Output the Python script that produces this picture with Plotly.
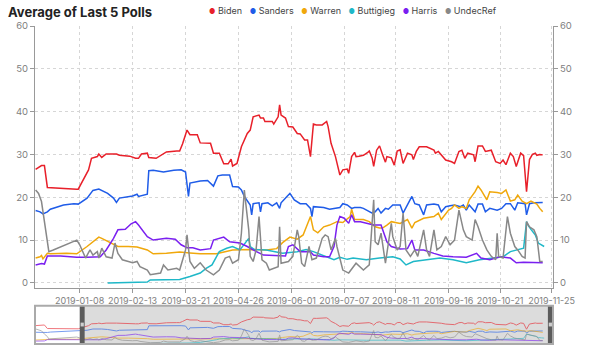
import pandas as pd
import plotly.graph_objects as go

START = pd.Timestamp("2018-12-09")

names = ["Biden", "Sanders", "Warren", "Buttigieg", "Harris", "UndecRef"]
colors = ["#e8202a", "#1f5ce8", "#f0a80c", "#1fb8c8", "#7a1ff0", "#888888"]

biden_days = [0,4,6,8,28,29,36,38,42,43,45,48,55,57,64,68,70,72,76,77,82,85,89,96,98,100,103,105,110,112,119,121,125,128,131,133,134,137,140,144,146,148,152,153,155,156,161,162,165,166,167,170,172,175,178,180,183,185,187,189,191,195,198,199,201,204,206,207,209,212,213,215,217,218,220,223,226,227,229,230,232,234,236,238,239,242,244,246,248,250,253,256,257,259,261,266,271,272,274,276,279,283,285,288,290,292,294,298,299,301,304,306,310,313,316,318,320,323,325,327,330,332,333,334,336,338,340,341,343,345]
biden_vals = [26.5,27.4,27.4,22.3,21.9,21.9,26.4,29.1,29.5,30.1,29.3,30.1,30.1,29.8,29.6,29.1,29.1,30.1,30.3,29.3,29.1,29.8,30.6,30.8,30.8,32.5,35.7,34.6,34.6,32.7,32.6,30.3,30.3,27.8,27.8,28.9,27.3,27.9,31.8,34.9,35.7,38.8,39.2,38.5,38.5,37.7,37.7,37.1,38.8,41.6,39.2,38.5,36.5,36.4,34.9,34.8,33.4,33.4,29.5,37.1,36.9,36.9,37.7,36.5,32.6,29.5,26.8,25.2,26.4,26.6,25.6,29.5,30.5,29.5,29.6,29.8,30.5,30.8,29.1,27.2,31.0,32.0,30.0,28.2,29.5,29.2,27.5,30.8,31.1,27.9,30.3,29.9,28.8,30.7,31.8,31.8,31.0,30.3,30.7,29.9,28.7,28.3,27.9,30.7,31.0,29.1,30.3,29.9,28.3,32.0,32.0,30.7,31.0,28.3,27.9,28.7,27.6,30.3,29.5,27.2,30.3,29.7,25.6,21.3,28.8,30.0,30.3,29.8,30.0,29.9]

sanders_days = [0,3,5,8,10,19,26,29,35,39,43,45,49,53,55,57,66,69,70,76,77,80,87,94,99,102,104,105,110,112,117,121,124,127,132,134,138,140,142,146,147,148,152,153,154,158,161,164,166,167,171,173,176,180,184,187,188,189,196,200,203,207,209,212,215,217,221,223,229,231,233,235,238,240,243,248,250,253,256,258,261,264,266,271,274,276,279,282,285,289,291,293,295,299,301,304,306,309,314,317,320,323,326,328,333,334,336,339,345]
sanders_vals = [16.9,16.6,16.1,16.6,17.2,18.2,18.5,18.4,19.8,21.6,21.9,21.6,20.9,19.8,18.8,19.8,20.3,20.7,20.2,20.7,26.2,26.3,25.9,26.3,26.4,25.9,20.2,23.3,23.6,23.8,23.9,22.6,25.0,25.2,25.2,22.5,22.4,21.7,20.2,18.2,15.9,18.5,18.7,16.6,18.5,18.7,18.0,18.7,17.4,18.7,20.2,20.9,19.4,18.5,18.5,17.4,15.5,17.8,17.6,17.2,17.4,17.6,18.5,18.2,17.4,17.6,17.6,17.4,16.3,16.6,17.4,16.3,17.4,17.2,18.2,18.2,16.3,18.2,20.2,18.5,18.2,15.9,18.2,18.4,18.2,16.6,17.8,18.0,18.2,17.8,18.2,17.0,18.2,16.6,18.4,18.4,16.6,17.4,17.0,17.4,18.5,18.5,17.0,18.7,18.5,15.9,18.5,18.7,18.8]

warren_days = [0,3,4,5,8,10,21,28,35,39,43,45,51,54,56,63,69,76,80,89,98,105,112,123,134,146,157,164,168,173,178,182,184,187,189,192,196,200,205,209,214,215,217,223,227,231,234,236,239,242,248,253,256,258,264,271,274,276,281,283,285,288,290,293,295,299,301,303,307,309,314,317,320,323,326,328,331,334,337,341,343,345]
warren_vals = [5.8,6.1,6.4,5.6,6.9,6.8,6.9,6.8,8.5,9.6,10.7,10.4,9.4,8.9,8.5,8.5,8.4,7.7,6.8,6.9,7.2,7.0,6.8,6.8,7.7,7.8,7.7,8.0,9.4,10.7,10.2,11.2,13.1,15.5,12.4,11.7,13.1,13.5,14.3,14.1,15.5,17.2,14.8,14.8,14.3,13.1,12.8,12.8,13.5,14.3,13.9,14.8,12.8,14.1,15.1,15.5,16.3,14.8,17.0,17.4,18.2,17.4,17.8,17.4,19.4,21.3,22.6,21.7,19.4,21.3,21.1,20.9,21.7,19.1,19.4,20.5,19.1,18.5,19.1,18.4,17.4,16.6]

buttigieg_days = [49,76,78,98,105,112,116,120,123,125,130,134,139,145,146,149,157,168,178,184,189,198,203,207,212,216,225,234,243,248,252,257,266,275,284,293,302,311,318,323,327,332,334,335,337,340,342,344,346]
buttigieg_vals = [0.0,0.2,0.7,0.8,1.5,2.3,3.4,4.2,6.1,7.3,8.1,8.5,7.7,10.4,8.5,7.8,7.7,6.9,7.3,7.8,7.3,6.1,5.4,6.0,5.5,5.8,5.4,5.8,6.1,5.6,4.2,5.0,5.4,5.8,5.4,4.7,5.4,5.8,6.1,7.3,7.7,8.1,14.3,13.5,12.5,11.2,9.3,8.9,8.5]

harris_days = [0,4,6,8,17,28,35,44,48,53,56,61,65,68,70,76,80,89,95,99,103,107,112,119,121,128,132,139,144,148,155,164,170,172,175,180,187,189,196,200,203,205,207,210,213,215,217,221,225,230,235,239,242,248,253,256,258,264,271,277,284,293,300,303,309,316,323,327,332,339,345]
harris_vals = [4.2,4.5,4.4,6.3,6.3,6.0,6.0,6.1,7.7,10.4,12.4,12.5,13.8,14.3,13.5,10.8,10.0,10.4,10.2,8.9,8.2,8.2,7.7,8.0,10.0,10.7,9.6,9.3,8.5,7.7,6.5,6.3,6.3,8.5,8.9,7.3,7.3,6.5,6.1,6.1,8.5,13.5,15.5,15.1,13.9,15.9,14.3,14.3,13.9,13.5,13.5,9.6,8.5,7.9,8.0,10.0,7.7,7.7,6.9,6.3,6.1,6.0,6.9,5.8,5.4,6.1,5.8,4.7,4.8,4.8,4.7]

undec_days = [0,2,4,6,8,9,12,21,28,30,34,37,39,42,43,45,48,52,54,56,59,66,69,71,76,78,85,87,90,96,98,102,103,105,108,112,116,121,125,129,132,134,138,140,142,143,145,146,148,150,152,154,157,159,165,166,167,172,175,178,179,181,183,186,188,191,195,197,199,201,204,205,207,209,213,218,223,227,230,231,233,235,238,240,242,243,246,248,250,252,255,258,260,264,266,268,271,273,276,279,282,285,288,291,293,297,299,301,304,307,310,313,314,315,318,321,323,326,328,331,333,334,336,339,341,343,345]
undec_vals = [21.7,20.9,19.0,14.3,10.8,7.3,7.7,8.9,10.0,8.9,5.8,7.7,6.5,7.3,5.8,8.1,6.1,5.8,9.3,6.9,5.4,4.7,5.0,3.8,3.0,1.9,2.3,4.2,3.0,3.4,3.0,7.7,11.2,5.0,3.4,4.7,3.0,1.9,3.0,5.8,6.2,4.6,5.4,11.6,21.7,18.5,12.4,6.2,5.0,7.7,15.5,5.4,4.6,3.0,3.8,13.1,4.6,5.0,6.2,12.4,10.8,4.6,3.8,8.5,5.4,5.8,10.4,11.2,10.8,7.7,10.4,8.5,5.4,3.0,2.3,4.6,3.0,4.2,19.4,9.6,8.9,11.6,4.6,8.9,13.9,10.8,7.7,8.5,16.3,7.7,6.2,7.7,6.2,12.4,7.7,6.2,12.4,7.7,8.5,10.8,8.9,10.0,17.0,12.4,10.8,10.0,14.8,13.1,10.0,7.7,6.2,5.4,11.6,6.2,5.8,15.5,11.6,8.5,7.7,6.2,5.8,14.3,13.1,12.4,10.8,5.0,5.0]

series_days = [biden_days, sanders_days, warren_days, buttigieg_days, harris_days, undec_days]
series_vals = [biden_vals, sanders_vals, warren_vals, buttigieg_vals, harris_vals, undec_vals]

tick_dates = ["2019-01-08", "2019-02-13", "2019-03-21", "2019-04-26", "2019-06-01",
              "2019-07-07", "2019-08-11", "2019-09-16", "2019-10-21", "2019-11-25"]
y_ticks = [0, 10, 20, 30, 40, 50, 60]

title_text = "Average of Last 5 Polls"


def to_dates(days):
    return START + pd.to_timedelta(days, unit="D")


x_lo = START - pd.Timedelta(hours=10)
x_hi = pd.Timestamp("2019-11-26")

fig = go.Figure()

# main chart lines
for name, col, d, v in zip(names, colors, series_days, series_vals):
    fig.add_trace(go.Scatter(x=to_dates(d), y=v, mode="lines", name=name,
                             line=dict(color=col, width=1.5), showlegend=False,
                             xaxis="x", yaxis="y"))
# right axis (mirror)
fig.add_trace(go.Scatter(x=[None], y=[None], xaxis="x", yaxis="y2", showlegend=False))

# brush/overview lines
for name, col, d, v in zip(names, colors, series_days, series_vals):
    fig.add_trace(go.Scatter(x=to_dates(d), y=v, mode="lines", name=name,
                             line=dict(color=col, width=1), opacity=0.6,
                             showlegend=False, xaxis="x2", yaxis="y3", hoverinfo="skip"))

grid = dict(showgrid=True, gridcolor="#d6d6d6", griddash="3px,3px", gridwidth=1)
axfont = dict(family="Inter, sans-serif", size=9, color="#808080")

fig.update_layout(
    width=600, height=351,
    margin=dict(l=35, r=47, t=26, b=7, pad=0),
    paper_bgcolor="white", plot_bgcolor="white",
    font=dict(family="Inter, sans-serif"),
    title=dict(text=title_text, x=8 / 600, xanchor="left", xref="container",
               y=1 - 12 / 351, yanchor="middle", yref="container",
               font=dict(family="Inter, sans-serif", size=13, color="#222", weight=700)),
    xaxis=dict(domain=[0, 1], anchor="y", range=[x_lo, x_hi], type="date",
               tickvals=tick_dates, ticktext=tick_dates, tickangle=0,
               showline=True, linecolor="#999", linewidth=1,
               ticks="outside", ticklen=4, tickcolor="#999",
               tickfont=axfont, zeroline=False, **grid),
    yaxis=dict(domain=[0.176, 1], anchor="x", range=[-1.2, 60], tickvals=y_ticks,
               showline=True, linecolor="#999", linewidth=1,
               ticks="outside", ticklen=4, tickcolor="#999",
               tickfont=dict(axfont, size=9.5), zeroline=False, **grid),
    yaxis2=dict(overlaying="y", side="right", anchor="x", range=[-1.2, 60], tickvals=y_ticks,
                showline=True, linecolor="#999", linewidth=1,
                ticks="outside", ticklen=4, tickcolor="#999",
                tickfont=dict(axfont, size=9.5), showgrid=False, zeroline=False),
    xaxis2=dict(domain=[0, 1], anchor="y3", range=[x_lo, x_hi], type="date", visible=False),
    yaxis3=dict(domain=[0, 0.12], anchor="x2", range=[0, 55], visible=False),
    showlegend=False,
)

# brush decoration (selection area and handles)
sel_lo = START + pd.Timedelta(days=30)
sel_hi = START + pd.Timedelta(days=348.5)
h_w = pd.Timedelta(days=3.4)
fig.add_shape(type="rect", xref="x2", yref="y3 domain", x0=sel_lo + h_w, x1=sel_hi,
              y0=0, y1=1, fillcolor="#dcdcdc", line=dict(width=0), layer="below")
for hx in [sel_lo, sel_hi]:
    fig.add_shape(type="rect", xref="x2", yref="y3 domain", x0=hx, x1=hx + h_w,
                  y0=0, y1=1, fillcolor="#5c5c5c", line=dict(width=0), layer="above")
    fig.add_shape(type="rect", xref="x2", yref="y3 domain", x0=hx + pd.Timedelta(days=0.6),
                  x1=hx + h_w - pd.Timedelta(days=0.6), y0=0.46, y1=0.56,
                  fillcolor="#cfcfcf", line=dict(width=0), layer="above")
fig.add_shape(type="rect", xref="x2 domain", yref="y3 domain", x0=0, x1=1, y0=0, y1=1,
              fillcolor="rgba(0,0,0,0)", line=dict(color="#aaa", width=2), layer="above")

# legend as text
parts = []
for name, col in zip(names, colors):
    parts.append(f"<span style='color:{col};font-size:7px'>\u25cf</span>\u00a0{name}")
legend_text = "\u00a0\u00a0\u00a0".join(parts)
fig.add_annotation(text=legend_text, xref="paper", yref="paper",
                   x=(207 - 35) / 518, y=1 + (26 - 11) / 318,
                   xanchor="left", yanchor="middle", showarrow=False,
                   font=dict(family="Inter, sans-serif", size=9, color="#444"))

fig.write_html("out.html")
